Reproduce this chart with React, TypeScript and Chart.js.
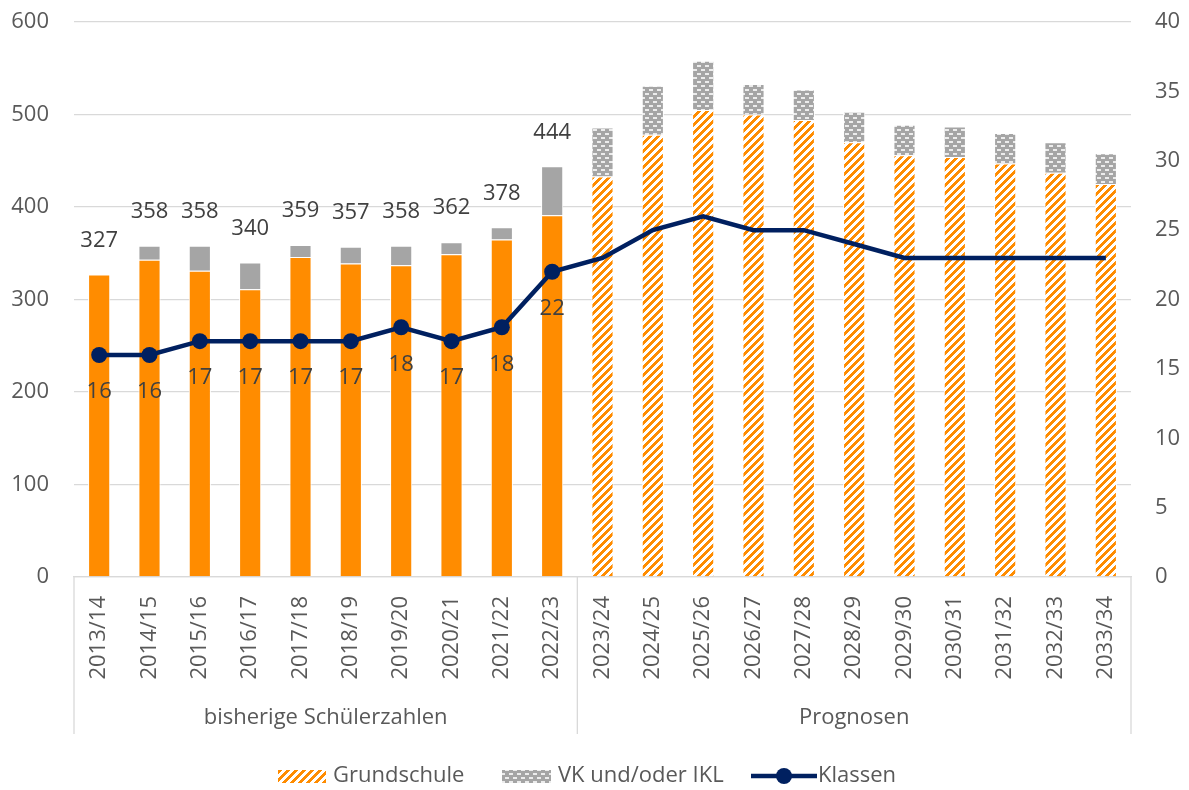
import React, { useEffect, useRef } from "react";
import { Chart, registerables } from "chart.js";

Chart.register(...registerables);

const categories = [
  "2013/14", "2014/15", "2015/16", "2016/17", "2017/18", "2018/19", "2019/20",
  "2020/21", "2021/22", "2022/23", "2023/24", "2024/25", "2025/26", "2026/27",
  "2027/28", "2028/29", "2029/30", "2030/31", "2031/32", "2032/33", "2033/34",
];
const grundschule = [327, 343, 331, 311, 346, 339, 337, 349, 365, 391, 433, 478, 505, 500, 494, 470, 456, 454, 447, 437, 425];
const vkIkl = [0, 15, 27, 29, 13, 18, 21, 13, 13, 53, 53, 53, 53, 33, 33, 33, 33, 33, 33, 33, 33];
const klassen = [16, 16, 17, 17, 17, 17, 18, 17, 18, 22, 23, 25, 26, 25, 25, 24, 23, 23, 23, 23, 23];
const historicCount = 10;
const groupLabels = ["bisherige Schülerzahlen", "Prognosen"];
const seriesNames = ["Grundschule", "VK und/oder IKL", "Klassen"];

const ORANGE = "#FF8C00";
const GRAY = "#A5A5A5";
const NAVY = "#002060";
const GRID = "#D9D9D9";
const TICK = "#595959";
const LABEL = "#404040";
const FONT = "'Open Sans', 'Noto Sans', sans-serif";

function makeTile(fn: (x: number, y: number) => [number, number, number]) {
  const c = document.createElement("canvas");
  c.width = 8;
  c.height = 8;
  const g = c.getContext("2d")!;
  const img = g.createImageData(8, 8);
  for (let y = 0; y < 8; y++) {
    for (let x = 0; x < 8; x++) {
      const [r, gg, b] = fn(x, y);
      const i = (y * 8 + x) * 4;
      img.data[i] = r;
      img.data[i + 1] = gg;
      img.data[i + 2] = b;
      img.data[i + 3] = 255;
    }
  }
  g.putImageData(img, 0, 0);
  return c;
}

export default function App() {
  const ref = useRef<HTMLCanvasElement | null>(null);

  useEffect(() => {
    document.body.style.margin = "0";
    const canvas = ref.current!;
    const ctx = canvas.getContext("2d")!;

    const stripeTile = makeTile((x, y) =>
      (x + y) % 8 < 4 ? [255, 140, 0] : [255, 255, 255]
    );
    const brickTile = makeTile((x, y) => {
      const row1 = (y === 1 || y === 2) && x >= 1 && x <= 4;
      const row2 = (y === 5 || y === 6) && (x >= 5 || x === 0);
      return row1 || row2 ? [236, 236, 236] : [165, 165, 165];
    });
    const stripe = ctx.createPattern(stripeTile, "repeat")!;
    const brick = ctx.createPattern(brickTile, "repeat")!;

    const gsColors = categories.map((_, i) => (i < historicCount ? ORANGE : stripe));
    const vkColors = categories.map((_, i) => (i < historicCount ? GRAY : brick));
    const pointRadii = categories.map((_, i) => (i < historicCount ? 8 : 0));

    const noPad = (s: any) => {
      s.paddingTop = 0;
      s.paddingBottom = 0;
    };

    const overlay = {
      id: "overlay",
      afterDatasetsDraw(chart: any) {
        const c = chart.ctx;
        const barMeta = chart.getDatasetMeta(2);
        const lineMeta = chart.getDatasetMeta(0);
        c.save();
        c.font = `22px ${FONT}`;
        c.fillStyle = LABEL;
        c.textAlign = "center";
        c.textBaseline = "middle";
        for (let i = 0; i < historicCount; i++) {
          const bar = barMeta.data[i];
          const total = grundschule[i] + vkIkl[i];
          c.fillText(String(total), bar.x, bar.y - 34);
          const pt = lineMeta.data[i];
          c.fillText(String(klassen[i]), pt.x, pt.y + 37);
        }
        c.restore();
      },
      afterDraw(chart: any) {
        const c = chart.ctx;
        const xs = chart.scales.x;
        const area = chart.chartArea;
        const half = (xs.getPixelForValue(1) - xs.getPixelForValue(0)) / 2;
        const left = area.left;
        const right = area.right;
        const mid = xs.getPixelForValue(historicCount - 1) + half;
        c.save();
        c.strokeStyle = GRID;
        c.lineWidth = 1.3;
        [left, mid, right].forEach((x) => {
          c.beginPath();
          c.moveTo(x, area.bottom);
          c.lineTo(x, 734);
          c.stroke();
        });
        c.font = `22px ${FONT}`;
        c.fillStyle = TICK;
        c.textAlign = "center";
        c.textBaseline = "middle";
        c.fillText(groupLabels[0], (left + mid) / 2, 718);
        c.fillText(groupLabels[1], (mid + right) / 2, 718);

        // legend
        const ly = 776;
        c.textAlign = "left";
        c.fillStyle = stripe;
        c.fillRect(278, ly - 6, 48, 13);
        c.fillStyle = brick;
        c.fillRect(502, ly - 6, 49, 13);
        c.strokeStyle = NAVY;
        c.lineWidth = 4.5;
        c.beginPath();
        c.moveTo(751, ly);
        c.lineTo(817, ly);
        c.stroke();
        c.fillStyle = NAVY;
        c.beginPath();
        c.arc(784, ly, 8, 0, Math.PI * 2);
        c.fill();
        c.fillStyle = TICK;
        c.fillText(seriesNames[0], 333, ly);
        c.fillText(seriesNames[1], 558, ly);
        c.fillText(seriesNames[2], 818, ly);
        c.restore();
      },
    };

    const chart = new Chart(canvas, {
      type: "bar",
      data: {
        labels: categories,
        datasets: [
          {
            type: "line",
            label: seriesNames[2],
            data: klassen,
            yAxisID: "y1",
            borderColor: NAVY,
            backgroundColor: NAVY,
            borderWidth: 4.5,
            pointRadius: pointRadii,
            pointHoverRadius: pointRadii,
            pointBackgroundColor: NAVY,
            pointBorderWidth: 0,
            tension: 0,
            order: 0,
          } as any,
          {
            type: "bar",
            label: seriesNames[0],
            data: grundschule,
            yAxisID: "y",
            backgroundColor: gsColors,
            borderColor: "#FFFFFF",
            borderWidth: 1,
            stack: "s",
            order: 1,
            barPercentage: 0.44,
            categoryPercentage: 1,
          } as any,
          {
            type: "bar",
            label: seriesNames[1],
            data: vkIkl,
            yAxisID: "y",
            backgroundColor: vkColors,
            borderColor: "#FFFFFF",
            borderWidth: 1,
            stack: "s",
            order: 2,
            barPercentage: 0.44,
            categoryPercentage: 1,
          } as any,
        ],
      },
      options: {
        responsive: false,
        animation: false,
        devicePixelRatio: 1,
        layout: { autoPadding: false, padding: { top: 22, left: 0, right: 0, bottom: 0 } },
        plugins: {
          legend: { display: false },
          tooltip: { enabled: false },
        },
        scales: {
          x: {
            stacked: true,
            grid: { display: false, drawTicks: false },
            border: { display: true, color: GRID, width: 1.3 },
            ticks: {
              autoSkip: false,
              minRotation: 90,
              maxRotation: 90,
              padding: 19,
              color: TICK,
              font: { family: FONT, size: 22 },
            },
            afterFit: (s: any) => {
              s.height = 213;
            },
          },
          y: {
            stacked: true,
            position: "left",
            min: 0,
            max: 600,
            grid: { color: GRID, lineWidth: 1.3, drawTicks: false },
            border: { display: false },
            ticks: {
              stepSize: 100,
              padding: 25,
              color: TICK,
              font: { family: FONT, size: 22 },
            },
            afterFit: (s: any) => {
              s.width = 74;
              noPad(s);
            },
          },
          y1: {
            position: "right",
            min: 0,
            max: 40,
            grid: { display: false, drawTicks: false },
            border: { display: false },
            ticks: {
              stepSize: 5,
              padding: 24,
              color: TICK,
              font: { family: FONT, size: 22 },
            },
            afterFit: (s: any) => {
              s.width = 58;
              noPad(s);
            },
          },
        },
      },
      plugins: [overlay],
    });

    return () => chart.destroy();
  }, []);

  return (
    <div style={{ width: 1189, height: 790 }}>
      <canvas ref={ref} width={1189} height={790} style={{ display: "block" }} />
    </div>
  );
}
